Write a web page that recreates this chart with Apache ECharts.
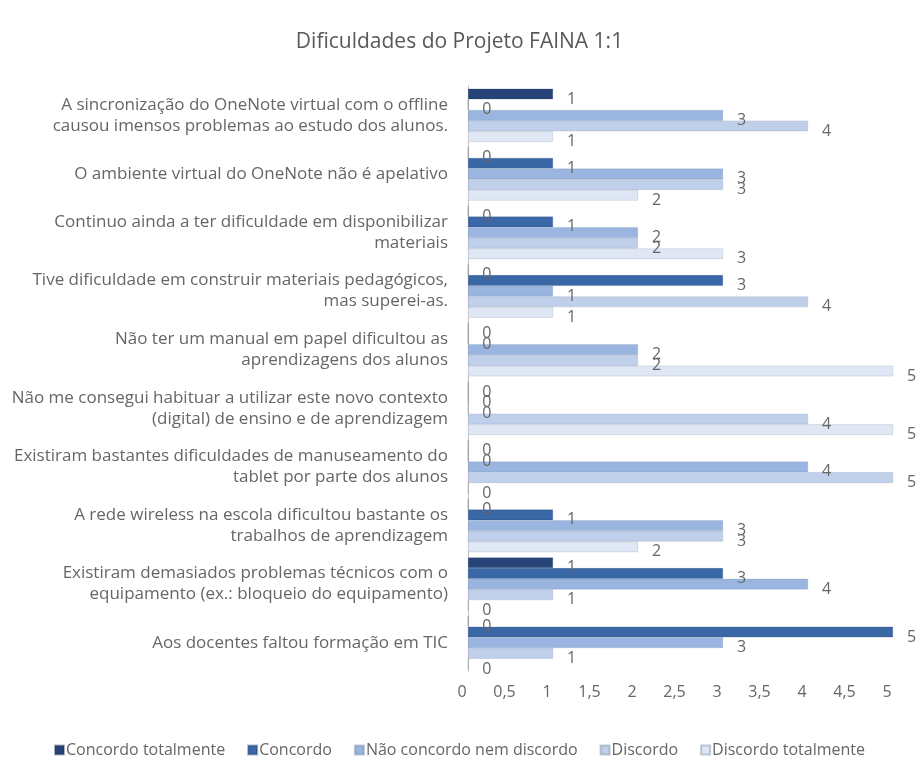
<!DOCTYPE html>
<html>
<head>
<meta charset="utf-8">
<script src="https://cdn.jsdelivr.net/npm/echarts@6/dist/echarts.min.js"></script>
<style>html,body{margin:0;padding:0;background:#fff}#c{width:919px;height:760px}</style>
</head>
<body>
<div id="c"></div>
<script>
const categories = [
  "A sincronização do OneNote virtual com o offline\ncausou imensos problemas ao estudo dos alunos.",
  "O ambiente virtual do OneNote não é apelativo",
  "Continuo ainda a ter dificuldade em disponibilizar\nmateriais",
  "Tive dificuldade em construir materiais pedagógicos,\nmas superei-as.",
  "Não ter um manual em papel dificultou as\naprendizagens dos alunos",
  "Não me consegui habituar a utilizar este novo contexto\n(digital) de ensino e de aprendizagem",
  "Existiram bastantes dificuldades de manuseamento do\ntablet por parte dos alunos",
  "A rede wireless na escola dificultou bastante os\ntrabalhos de aprendizagem",
  "Existiram demasiados problemas técnicos com o\nequipamento (ex.: bloqueio do equipamento)",
  "Aos docentes faltou formação em TIC"
];
const seriesNames = ["Concordo totalmente", "Concordo", "Não concordo nem discordo", "Discordo", "Discordo totalmente"];
const concordoTotalmente = [1, 0, 0, 0, 0, 0, 0, 0, 1, 0];
const concordo           = [0, 1, 1, 3, 0, 0, 0, 1, 3, 5];
const naoConcordoNem     = [3, 3, 2, 1, 2, 0, 4, 3, 4, 3];
const discordo           = [4, 3, 2, 4, 2, 4, 5, 3, 1, 1];
const discordoTotalmente = [1, 2, 3, 1, 5, 5, 0, 2, 0, 0];
const xTickLabels = ["0", "0,5", "1", "1,5", "2", "2,5", "3", "3,5", "4", "4,5", "5"];

const values = [concordoTotalmente, concordo, naoConcordoNem, discordo, discordoTotalmente];
const colors = ["#264478", "#3a67a6", "#9ab6e0", "#c0cfea", "#dfe7f4"];
const font = "'Open Sans', 'Noto Sans', sans-serif";
const textColor = '#666666';

const chart = echarts.init(document.getElementById('c'));
chart.setOption({
  animation: false,
  title: {
    text: "Dificuldades do Projeto FAINA 1:1",
    left: 'center', top: 27,
    textStyle: { fontFamily: font, fontSize: 21, fontWeight: 'normal', color: '#595959' }
  },
  legend: {
    bottom: -3, left: 'center',
    icon: 'rect', itemWidth: 9, itemHeight: 9, itemGap: 22,
    textStyle: { fontFamily: font, fontSize: 16, color: textColor, padding: [0, 0, 0, -3] },
    data: seriesNames
  },
  grid: { left: 468, right: 26, top: 86, bottom: 88, containLabel: false },
  xAxis: {
    type: 'value', min: 0, max: 5, interval: 0.5,
    axisLine: { show: false }, axisTick: { show: false }, splitLine: { show: false },
    axisLabel: {
      fontFamily: font, fontSize: 16, color: textColor, margin: 12, padding: [0, 12, 0, 0],
      formatter: v => xTickLabels[Math.round(v * 2)]
    }
  },
  yAxis: {
    type: 'category', data: categories, inverse: true,
    axisLine: { show: true, lineStyle: { color: '#bfbfbf' } },
    axisTick: { show: false },
    axisLabel: { fontFamily: font, fontSize: 17, color: textColor, margin: 20, lineHeight: 21, align: 'right', padding: [6, 0, 0, 0] }
  },
  series: values.map((d, i) => ({
    name: seriesNames[i], type: 'bar', data: d,
    barGap: '0%', barCategoryGap: '9%',
    itemStyle: { color: colors[i], borderColor: i < 2 ? 'rgba(20,40,80,0.35)' : 'rgba(90,110,140,0.35)', borderWidth: 0.5 },
    label: {
      show: true, position: 'right', distance: 14, offset: [0, 5],
      fontFamily: font, fontSize: 16, color: textColor
    }
  }))
});
</script>
</body>
</html>
